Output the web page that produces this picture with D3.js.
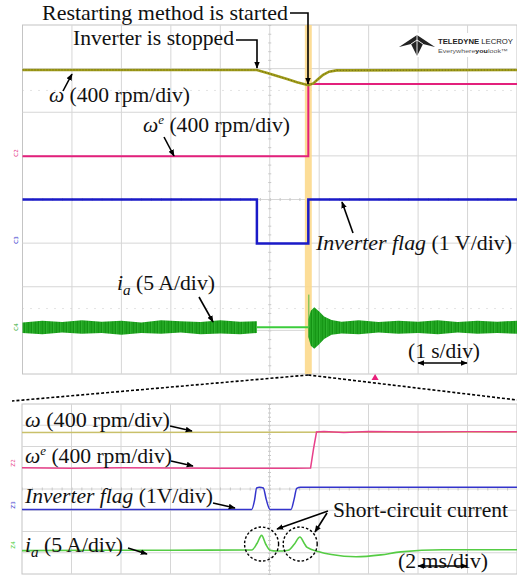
<!DOCTYPE html>
<html><head><meta charset="utf-8">
<script src="https://cdn.jsdelivr.net/npm/d3@7"></script>
<style>body{margin:0;background:#fff}svg{display:block}</style>
</head><body>
<script>
// ---------- DATA (values in screen divisions; time in s / ms) ----------
// Top capture: 1 s/div, 10 div; 8 vertical divisions
const topOmegaT  = [0, 4.74, 4.95, 5.15, 5.35, 5.55, 5.78, 5.88, 5.98, 6.08, 6.20, 6.35, 10];
const topOmegaV  = [2.97, 2.97, 2.90, 2.83, 2.76, 2.69, 2.62, 2.66, 2.76, 2.86, 2.93, 2.96, 2.97];
const topOmegaET = [0, 5.78, 5.78, 10];
const topOmegaEV = [0.99, 0.99, 2.65, 2.65];
const topFlagT   = [0, 4.74, 4.74, 5.78, 5.78, 10];
const topFlagV   = [0, 0, -1.01, -1.01, 0, 0];
const topIaT     = [0, 0.4, 0.8, 1.2, 1.6, 2.0, 2.4, 2.8, 3.2, 3.6, 4.0, 4.4, 4.74,
                    5.78, 5.83, 5.90, 6.00, 6.10, 6.25, 6.45, 6.8, 7.2, 7.6, 8.0, 8.4, 8.8, 9.2, 9.6, 10];
const topIaUp    = [-2.82, -2.78, -2.81, -2.77, -2.80, -2.78, -2.82, -2.77, -2.79, -2.81, -2.77, -2.80, -2.79,
                    -2.75, -2.55, -2.47, -2.57, -2.68, -2.76, -2.80, -2.77, -2.81, -2.78, -2.80, -2.77, -2.81, -2.78, -2.80, -2.78];
const topIaLo    = [-3.06, -3.09, -3.05, -3.08, -3.06, -3.10, -3.06, -3.08, -3.05, -3.09, -3.07, -3.09, -3.06,
                    -3.15, -3.35, -3.42, -3.32, -3.20, -3.10, -3.07, -3.09, -3.05, -3.08, -3.06, -3.09, -3.05, -3.08, -3.06, -3.08];
const topIaQuietT = [4.74, 5.78];
const topIaQuietV = [-2.93, -2.93];
const topIaSpikeT = [5.79, 5.79];
const topIaSpikeV = [-2.93, -2.18];
const topBand = [5.71, 5.85];
const topTrigger = 7.13;

// Bottom capture: 2 ms/div, 10 div; 8 vertical divisions
const botOmegaT  = [0, 20];
const botOmegaV  = [2.66, 2.68];
const botOmegaET = [0, 2, 4, 6, 8, 10, 11.0, 11.66, 11.78, 11.90, 12.2, 13, 14, 16, 18, 20];
const botOmegaEV = [1.0, 0.98, 1.0, 0.99, 0.98, 0.98, 0.98, 0.99, 1.9, 2.68, 2.70, 2.66, 2.70, 2.68, 2.70, 2.70];
const botFlagT   = [0, 9.28, 9.40, 9.48, 9.60, 9.75, 9.87, 10.02, 10.87, 10.99, 11.10, 11.25, 20];
const botFlagV   = [-0.96, -0.96, -0.5, 0.05, 0.08, 0.05, -0.5, -0.96, -0.96, -0.5, 0.03, 0.08, 0.08];
const botIaT     = [0, 3, 6, 9.0, 9.28, 9.50, 9.68, 9.85, 10.02, 10.3, 10.76, 11.0, 11.23, 11.40, 11.52, 12.0, 12.5, 13.5, 14.5, 15.3, 17, 20];
const botIaV     = [-2.90, -2.88, -2.88, -2.87, -2.87, -2.55, -2.18, -2.6, -2.88, -2.92, -2.88, -2.6, -2.26, -2.55, -2.75, -2.95, -3.08, -3.19, -3.10, -2.96, -2.86, -2.86];
const botCircleT = [9.68, 11.24];
const botCircleV = [-2.59, -2.59];

// ---------- DRAWING ----------
const W = 517, H = 579;
const svg = d3.select("body").append("svg").attr("width", W).attr("height", H);
svg.append("rect").attr("width", W).attr("height", H).attr("fill", "#fff");

const defs = svg.append("defs");
const pat = defs.append("pattern").attr("id", "noise").attr("width", 7).attr("height", 4).attr("patternUnits", "userSpaceOnUse");
pat.append("rect").attr("width", 7).attr("height", 4).attr("fill", "#26ac26");
[[0, 0.8, "#129212"], [1.6, 0.6, "#1a9c1a"], [2.9, 0.9, "#0f8c0f"], [4.5, 0.5, "#34b834"], [5.6, 0.8, "#159515"]]
  .forEach(s => pat.append("rect").attr("x", s[0]).attr("width", s[1]).attr("height", 4).attr("fill", s[2]));
defs.append("marker").attr("id", "ah").attr("viewBox", "0 0 10 10").attr("refX", 9).attr("refY", 5)
  .attr("markerWidth", 7).attr("markerHeight", 7).attr("markerUnits", "userSpaceOnUse").attr("orient", "auto-start-reverse")
  .append("path").attr("d", "M0,1 L10,5 L0,9 Z").attr("fill", "#000");

const zip = (t, v) => t.map((d, i) => [d, v[i]]);
const serif = "'Liberation Serif', 'Times New Roman', serif";

function scope(x0, x1, y0, y1, tMax) {
  const x = d3.scaleLinear([0, tMax], [x0, x1]);
  const y = d3.scaleLinear([-4, 4], [y1, y0]);
  const g = svg.append("g");
  g.append("rect").attr("x", x0).attr("y", y0).attr("width", x1 - x0).attr("height", y1 - y0)
    .attr("fill", "#fff").attr("stroke", "#c4c4c4");
  const step = tMax / 10;
  g.selectAll(".vg").data(d3.range(1, 10)).join("line")
    .attr("x1", d => x(d * step)).attr("x2", d => x(d * step)).attr("y1", y0).attr("y2", y1)
    .attr("stroke", "#d6d6d6");
  g.selectAll(".hg").data(d3.range(-3, 4)).join("line")
    .attr("y1", d => y(d)).attr("y2", d => y(d)).attr("x1", x0).attr("x2", x1)
    .attr("stroke", "#d6d6d6");
  g.append("g").attr("transform", `translate(0,${y(0)})`)
    .call(d3.axisBottom(x).tickValues(d3.range(0, tMax + 1e-9, step / 5)).tickSize(3).tickSizeOuter(0).tickFormat(""))
    .call(a => { a.select(".domain").remove(); a.selectAll("line").attr("stroke", "#c8c8c8").attr("transform", "translate(0,-1.5)"); });
  g.append("g").attr("transform", `translate(${x(tMax / 2)},0)`)
    .call(d3.axisRight(y).tickValues(d3.range(-4, 4.001, 0.2)).tickSize(3).tickSizeOuter(0).tickFormat(""))
    .call(a => { a.select(".domain").remove(); a.selectAll("line").attr("stroke", "#c8c8c8").attr("transform", "translate(-1.5,0)"); });
  return { x, y, g };
}

// ----- top scope -----
const T = scope(22.5, 517, 25, 374, 10);
[2.5, -2.5].forEach(v => T.g.append("line").attr("x1", 22.5).attr("x2", 517).attr("y1", T.y(v)).attr("y2", T.y(v))
  .attr("stroke", "#c8c8c8").attr("stroke-dasharray", "1,7"));

T.g.append("rect").attr("x", T.x(topBand[0])).attr("width", T.x(topBand[1]) - T.x(topBand[0]))
  .attr("y", 25).attr("height", 349).attr("fill", "#fcd98c").attr("opacity", 0.9);

const lineT = d3.line().x(d => T.x(d[0])).y(d => T.y(d[1]));
const iaData = topIaT.map((t, i) => ({ t, u: topIaUp[i], l: topIaLo[i] }));
const areaT = d3.area().x(d => T.x(d.t)).y0(d => T.y(d.l)).y1(d => T.y(d.u));
T.g.append("path").attr("d", areaT(iaData.filter(d => d.t <= 4.74))).attr("fill", "url(#noise)");
T.g.append("path").attr("d", areaT(iaData.filter(d => d.t >= 5.78))).attr("fill", "url(#noise)");
T.g.append("path").attr("d", lineT(zip(topIaQuietT, topIaQuietV))).attr("stroke", "#3ccc3c").attr("stroke-width", 2).attr("fill", "none");
T.g.append("path").attr("d", lineT(zip(topIaSpikeT, topIaSpikeV))).attr("stroke", "#55bb44").attr("stroke-width", 1).attr("fill", "none");
T.g.append("path").attr("d", lineT(zip(topFlagT, topFlagV))).attr("stroke", "#1a1ac8").attr("stroke-width", 2.5).attr("fill", "none");
T.g.append("path").attr("d", lineT(zip(topOmegaET, topOmegaEV))).attr("stroke", "#e3207c").attr("stroke-width", 2).attr("fill", "none");
T.g.append("path").attr("d", lineT(zip(topOmegaT, topOmegaV))).attr("stroke", "#a09c1a").attr("stroke-width", 2.6).attr("fill", "none");
T.g.append("path").attr("d", lineT(zip(topOmegaT, topOmegaV))).attr("stroke", "#6c6a10").attr("stroke-width", 1).attr("stroke-dasharray", "1,2").attr("fill", "none");

svg.append("path").attr("d", d3.symbol(d3.symbolTriangle, 22)()).attr("transform", `translate(${T.x(topTrigger)},378)`).attr("fill", "#e8207a");

const chLab = (x, y, txt, col) => svg.append("text").attr("transform", `translate(${x},${y}) rotate(-90)`)
  .attr("text-anchor", "middle").attr("font-family", "DejaVu Sans").attr("font-size", 5.5).attr("fill", col).text(txt);
chLab(18, 153, "C2", "#e3207c");
chLab(18, 240, "C3", "#1a1ac8");
chLab(18, 327, "C4", "#2ea82e");

// logo
const logo = svg.append("g");
logo.append("rect").attr("x", 396).attr("y", 33).attr("width", 120).attr("height", 24).attr("fill", "#fff");
logo.append("path").attr("d", "M399,47 L417,35 L435,47 L423,44 L417,56 L411,44 Z").attr("fill", "#222");
logo.append("path").attr("d", "M417,35 L417,56 M411,44 L417,40 L423,44").attr("stroke", "#fff").attr("stroke-width", 0.9).attr("fill", "none");
logo.append("text").attr("x", 438).attr("y", 44).attr("font-family", "'Liberation Sans Narrow', 'Liberation Sans', Arial").attr("font-size", 8)
  .attr("textLength", 75).attr("lengthAdjust", "spacingAndGlyphs").attr("fill", "#222")
  .call(t => { t.append("tspan").attr("font-weight", "bold").text("TELEDYNE"); t.append("tspan").text(" LECROY"); });
logo.append("text").attr("x", 438).attr("y", 52.5).attr("font-family", "'Liberation Sans', Arial").attr("font-size", 5.5)
  .attr("textLength", 70).attr("lengthAdjust", "spacingAndGlyphs").attr("fill", "#555")
  .call(t => { t.append("tspan").text("Everywhere"); t.append("tspan").attr("font-weight", "bold").attr("fill", "#222").text("you"); t.append("tspan").text("look™"); });

svg.append("path").attr("d", `M${T.x(5.78)},375 L12,401`).attr("stroke", "#000").attr("stroke-width", 1.6).attr("stroke-dasharray", "3,2").attr("fill", "none");
svg.append("path").attr("d", `M${T.x(5.78)},375 L517,400`).attr("stroke", "#000").attr("stroke-width", 1.6).attr("stroke-dasharray", "3,2").attr("fill", "none");

// ----- bottom scope -----
const B = scope(22, 517, 404, 574, 20);
const lineB = d3.line().x(d => B.x(d[0])).y(d => B.y(d[1]));
const lineBc = d3.line().x(d => B.x(d[0])).y(d => B.y(d[1])).curve(d3.curveMonotoneX);
B.g.append("path").attr("d", lineB(zip(botOmegaT, botOmegaV))).attr("stroke", "#c9c06a").attr("stroke-width", 1.6).attr("fill", "none");
B.g.append("path").attr("d", lineB(zip(botOmegaET, botOmegaEV))).attr("stroke", "#e8408a").attr("stroke-width", 1.5).attr("fill", "none");
B.g.append("path").attr("d", lineBc(zip(botFlagT, botFlagV))).attr("stroke", "#3434cc").attr("stroke-width", 1.5).attr("fill", "none");
B.g.append("path").attr("d", lineBc(zip(botIaT, botIaV))).attr("stroke", "#55cc44").attr("stroke-width", 1.6).attr("fill", "none");
B.g.selectAll(".circ").data(zip(botCircleT, botCircleV)).join("circle")
  .attr("cx", d => B.x(d[0])).attr("cy", d => B.y(d[1])).attr("r", 17)
  .attr("fill", "none").attr("stroke", "#000").attr("stroke-width", 1.4).attr("stroke-dasharray", "2.5,2");
chLab(15, 463, "Z2", "#e8408a");
chLab(15, 505, "Z3", "#3434cc");
chLab(15, 545, "Z4", "#44cc33");

// ----- text annotations -----
function label(x, y, size, len, parts) {
  const t = svg.append("text").attr("x", x).attr("y", y).attr("font-family", serif).attr("font-size", size).attr("fill", "#111")
    .attr("textLength", len).attr("lengthAdjust", "spacingAndGlyphs");
  parts.forEach(p => {
    const s = t.append("tspan").text(p.t);
    if (p.i) s.attr("font-style", "italic");
    if (p.sub) s.attr("font-size", size * 0.7).attr("dy", size * 0.22);
    if (p.sup) s.attr("font-size", size * 0.6).attr("dy", -size * 0.38);
    if (p.back) s.attr("dy", p.back);
  });
  return t;
}
function arrow(pts, both) {
  const p = svg.append("path").attr("d", d3.line()(pts)).attr("stroke", "#000").attr("stroke-width", 1.6).attr("fill", "none")
    .attr("marker-end", "url(#ah)");
  if (both) p.attr("marker-start", "url(#ah)");
}

label(42, 20, 21, 246, [{ t: "Restarting method is started" }]);
arrow([[290, 13], [308, 13], [308, 84]]);
label(73, 45, 21, 161, [{ t: "Inverter is stopped" }]);
arrow([[236, 40], [257, 40], [257, 68]]);
label(49, 102, 21, 141, [{ t: "ω", i: 1 }, { t: " (400 rpm/div)" }]);
arrow([[63, 91], [72, 74]]);
label(143, 132, 21, 147, [{ t: "ω", i: 1 }, { t: "e", i: 1, sup: 1 }, { t: " (400 rpm/div)", back: 8 }]);
arrow([[164, 137], [174, 156]]);
label(316, 250, 21.5, 196, [{ t: "Inverter flag", i: 1 }, { t: " (1 V/div)" }]);
arrow([[353, 233], [342, 202]]);
label(117, 290, 21, 98, [{ t: "i", i: 1 }, { t: "a", i: 1, sub: 1 }, { t: " (5 A/div)", back: -4.6 }]);
arrow([[199, 297], [213, 322]]);
label(408, 358, 21, 72, [{ t: "(1 s/div)" }]);
arrow([[418, 363], [467, 363]], true);

label(25, 427, 21, 145, [{ t: "ω", i: 1 }, { t: " (400 rpm/div)" }]);
arrow([[170, 426], [192, 431]]);
label(25, 463, 21, 147, [{ t: "ω", i: 1 }, { t: "e", i: 1, sup: 1 }, { t: " (400 rpm/div)", back: 8 }]);
arrow([[171, 461], [193, 466]]);
label(25, 503, 21.5, 188, [{ t: "Inverter flag", i: 1 }, { t: " (1V/div)" }]);
arrow([[213, 503], [235, 508]]);
label(333, 517, 21, 175, [{ t: "Short-circuit current" }]);
arrow([[328, 511], [277, 529]]);
arrow([[327, 513], [315, 532]]);
label(25, 552, 21, 98, [{ t: "i", i: 1 }, { t: "a", i: 1, sub: 1 }, { t: " (5 A/div)", back: -4.6 }]);
arrow([[128, 548], [147, 554]]);
label(398, 568, 21, 90, [{ t: "(2 ms/div)" }]);
arrow([[418, 566], [467, 566]], true);
</script>
</body></html>
